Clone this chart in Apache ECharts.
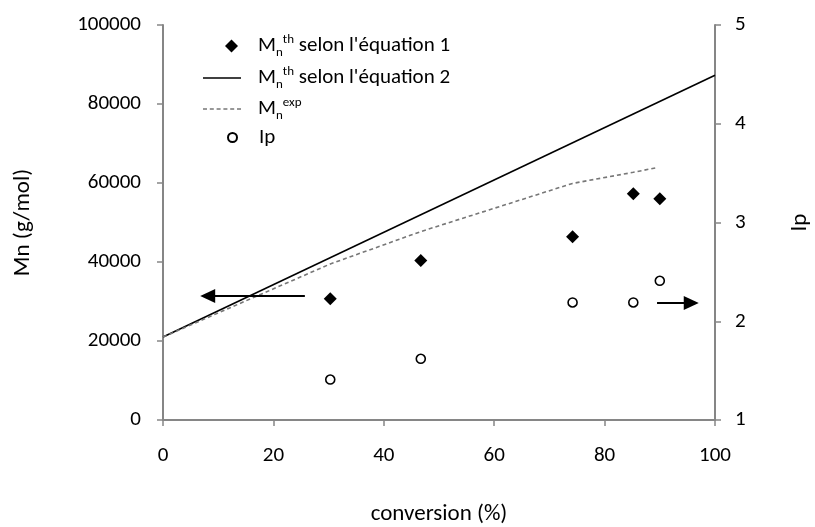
<!DOCTYPE html>
<html>
<head>
<meta charset="utf-8">
<script src="https://cdn.jsdelivr.net/npm/echarts@6/dist/echarts.min.js"></script>
<style>
html,body{margin:0;padding:0;background:#fff;}
#c{width:815px;height:527px;}
</style>
</head>
<body>
<div id="c"></div>
<script>
// Data
var conv = [30.3, 46.7, 74.2, 85.2, 90.0];
var mnEq1 = [30700, 40400, 46400, 57300, 56000];
var ipVals = [1.41, 1.62, 2.19, 2.19, 2.41];
var eq2X = [0, 100];
var eq2Y = [21000, 87300];
var expX = [0, 30.3, 46.7, 74.2, 85.2, 89.5];
var expY = [21000, 39500, 47700, 59900, 62700, 63900];
var xTicks = [0, 20, 40, 60, 80, 100];
var leftTicks = [0, 20000, 40000, 60000, 80000, 100000];
var rightTicks = [1, 2, 3, 4, 5];
// Annotation arrows (data coords, left axis): [xStart, xEnd, y]
var arrowLeft = [25.7, 8.1, 31400];
var arrowRight = [89.5, 95.7, 29600];

var FONT = 'Carlito, Lato, sans-serif';
var axisCol = '#868686';
var TICK_FS = 21, TITLE_FS = 23, LEG_FS = 21, SS_FS = 13;

function zip(a, b){ return a.map(function(v,i){ return [v, b[i]]; }); }

var chart = echarts.init(document.getElementById('c'), null, {renderer:'canvas'});
var triPath = 'path://M5,0 L10,10 L0,10 Z';
var dashPath = 'path://M0,0h4v1.6h-4z M6.8,0h4v1.6h-4z M13.6,0h4v1.6h-4z M20.4,0h4v1.6h-4z M27.2,0h4v1.6h-4z M34,0h4v1.6h-4z';

var rich = {
  m: {fontFamily: FONT, fontSize: LEG_FS, color:'#000', lineHeight: 26},
  sub: {fontFamily: FONT, fontSize: SS_FS, color:'#000', verticalAlign: 'bottom', lineHeight: 13},
  sup: {fontFamily: FONT, fontSize: SS_FS, color:'#000', verticalAlign: 'top', lineHeight: 13}
};
function legendLabel(name){
  if (name === 'eq1') return '{m|M}{sub|n}{sup|th}{m| selon l\'équation 1}';
  if (name === 'eq2') return '{m|M}{sub|n}{sup|th}{m| selon l\'équation 2}';
  if (name === 'exp') return '{m|M}{sub|n}{sup|exp}';
  return '{m|Ip}';
}
function mkLegend(name, icon, left, top, w, h, textPad){
  return {
    show: true, orient: 'vertical', left: left, top: top, padding: 0,
    itemWidth: w, itemHeight: h, symbolKeepAspect: false,
    selectedMode: false,
    textStyle: {fontFamily: FONT, fontSize: LEG_FS, color: '#000', padding: [0,0,0,textPad], rich: rich},
    formatter: legendLabel,
    data: [{name: name, icon: icon}]
  };
}

var option = {
  animation: false,
  backgroundColor: '#fff',
  textStyle: {fontFamily: FONT},
  grid: {left: 163, right: 100, top: 25, bottom: 107, containLabel: false, outerBoundsMode: 'none'},
  legend: [
    mkLegend('eq1', 'diamond', 225, 33, 13, 13, 15),
    mkLegend('eq2', 'rect', 203, 65, 38, 1.6, 12),
    mkLegend('exp', dashPath, 203, 96, 38, 1.6, 12),
    mkLegend('Ip', 'circle', 227, 127, 9, 9, 17)
  ],
  xAxis: {
    type: 'value', min: 0, max: 100, interval: 20,
    name: 'conversion (%)', nameLocation: 'middle', nameGap: 83,
    nameTextStyle: {fontFamily: FONT, fontSize: TITLE_FS, color: '#000'},
    axisLine: {show: true, lineStyle: {color: axisCol, width: 2}},
    axisTick: {show: true, length: 6, inside: false, lineStyle: {color: axisCol, width: 1.5}},
    axisLabel: {fontFamily: FONT, fontSize: TICK_FS, color: '#000', margin: 25,
      formatter: function(v){ return xTicks.indexOf(v) >= 0 ? String(v) : ''; }},
    splitLine: {show: false}
  },
  yAxis: [
    {
      type: 'value', min: 0, max: 100000, interval: 20000, position: 'left',
      name: 'Mn (g/mol)', nameLocation: 'middle', nameGap: 128, nameRotate: 90,
      nameTextStyle: {fontFamily: FONT, fontSize: TITLE_FS, color: '#000'},
      axisLine: {show: true, lineStyle: {color: axisCol, width: 2}},
      axisTick: {show: true, length: 6, lineStyle: {color: axisCol, width: 1.5}},
      axisLabel: {fontFamily: FONT, fontSize: TICK_FS, color: '#000', margin: 22,
        formatter: function(v){ return leftTicks.indexOf(v) >= 0 ? String(v) : ''; }},
      splitLine: {show: false}
    },
    {
      type: 'value', min: 1, max: 5, interval: 1, position: 'right',
      name: 'Ip', nameLocation: 'middle', nameGap: 74, nameRotate: 90,
      nameTextStyle: {fontFamily: FONT, fontSize: TITLE_FS, color: '#000'},
      axisLine: {show: true, lineStyle: {color: axisCol, width: 2}},
      axisTick: {show: true, length: 6, lineStyle: {color: axisCol, width: 1.5}},
      axisLabel: {fontFamily: FONT, fontSize: TICK_FS, color: '#000', margin: 20,
        formatter: function(v){ return rightTicks.indexOf(v) >= 0 ? String(v) : ''; }},
      splitLine: {show: false}
    }
  ],
  series: [
    {
      name: 'eq1', type: 'scatter', yAxisIndex: 0,
      symbol: 'diamond', symbolSize: 13,
      itemStyle: {color: '#000', opacity: 1},
      data: zip(conv, mnEq1),
      z: 5,
      markLine: {
        silent: true, animation: false,
        symbol: ['none', triPath], symbolSize: [14, 15],
        lineStyle: {color: '#000', width: 2, type: 'solid', opacity: 1},
        itemStyle: {color: '#000'},
        label: {show: false},
        data: [
          [{coord: [arrowLeft[0], arrowLeft[2]]}, {coord: [arrowLeft[1], arrowLeft[2]]}],
          [{coord: [arrowRight[0], arrowRight[2]]}, {coord: [arrowRight[1], arrowRight[2]]}]
        ]
      }
    },
    {
      name: 'eq2', type: 'line', yAxisIndex: 0,
      symbol: 'none', showSymbol: false,
      lineStyle: {color: '#000', width: 1.6},
      itemStyle: {color: '#000'},
      data: zip(eq2X, eq2Y)
    },
    {
      name: 'exp', type: 'line', yAxisIndex: 0,
      symbol: 'none', showSymbol: false,
      lineStyle: {color: '#777', width: 1.6, type: [4, 3]},
      itemStyle: {color: '#777'},
      data: zip(expX, expY)
    },
    {
      name: 'Ip', type: 'scatter', yAxisIndex: 1,
      symbol: 'circle', symbolSize: 9,
      itemStyle: {color: '#fff', borderColor: '#000', borderWidth: 1.6, opacity: 1},
      data: zip(conv, ipVals),
      z: 5
    }
  ]
};
chart.setOption(option);
</script>
</body>
</html>
